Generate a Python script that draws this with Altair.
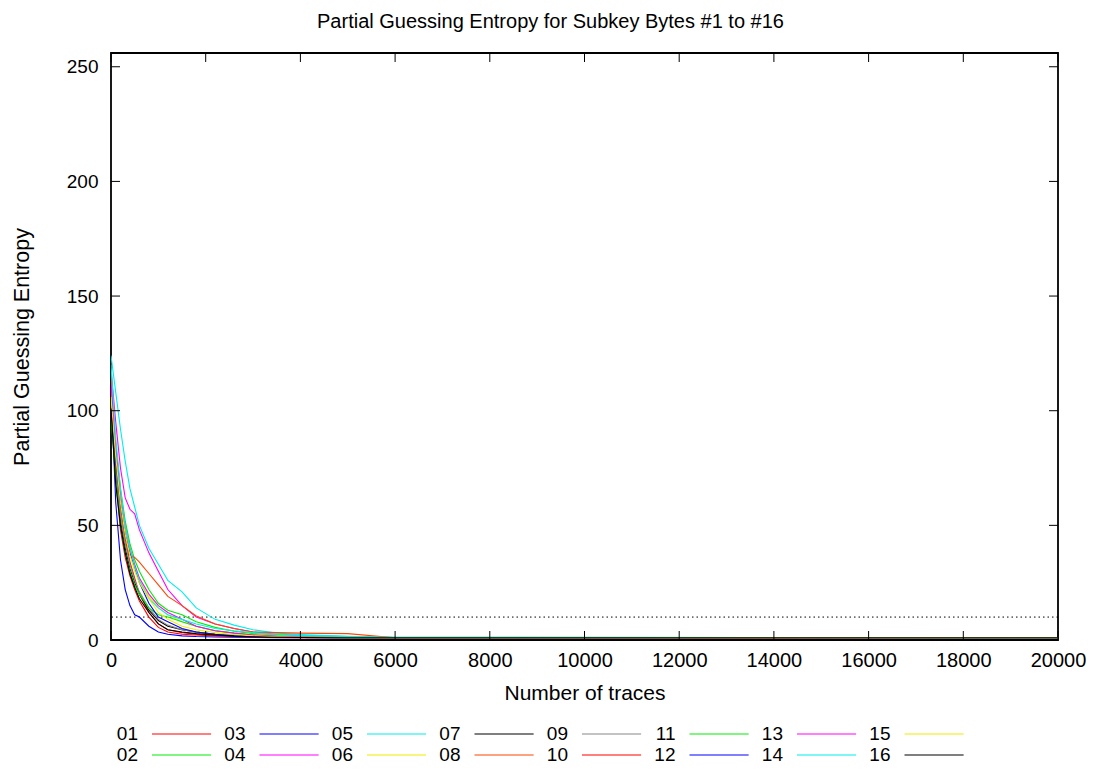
import altair as alt
import pandas as pd

# ---------------- data ----------------
traces = [0, 100, 200, 300, 400, 500, 600, 800, 1000, 1200, 1500, 1800,
          2200, 2600, 3000, 3500, 4000, 5000, 6000, 20000]

s01 = [112, 80, 58, 44, 34, 27, 20, 12, 7, 4.5, 3.2, 2.5, 2.0, 1.6, 1.4, 1.2, 1.1, 1.0, 1.0, 1.0]
s02 = [105, 85, 66, 52, 42, 35, 30, 22, 16, 13, 11, 8, 5.5, 3.8, 2.8, 2.0, 1.6, 1.2, 1.0, 1.0]
s03 = [110, 60, 35, 22, 15, 11, 10, 6, 3.5, 2.5, 1.8, 1.5, 1.3, 1.2, 1.1, 1.0, 1.0, 1.0, 1.0, 1.0]
s04 = [118, 95, 75, 62, 57, 55, 48, 38, 30, 22, 15, 10, 7, 5, 3.5, 2.5, 2.0, 1.4, 1.1, 1.0]
s05 = [124, 108, 92, 78, 66, 58, 50, 40, 33, 26, 21, 14, 9, 6.5, 4.5, 3.0, 2.4, 1.6, 1.2, 1.0]
s06 = [108, 82, 62, 48, 38, 31, 26, 19, 14, 11, 8, 6, 4, 3, 2.4, 1.8, 1.5, 1.2, 1.0, 1.0]
s07 = [100, 72, 52, 40, 31, 25, 20, 13, 8.5, 6, 4.5, 3.5, 2.5, 2.0, 1.6, 1.3, 1.2, 1.0, 1.0, 1.0]
s08 = [115, 78, 55, 42, 37, 36, 34, 29, 24, 19, 15, 10.5, 7, 5, 3.5, 3.2, 3.0, 2.8, 1.0, 1.0]
s09 = [104, 75, 55, 42, 33, 26, 21, 14, 9, 6.5, 4.5, 3.5, 2.6, 2.0, 1.6, 1.3, 1.1, 1.0, 1.0, 1.0]
s10 = [102, 70, 48, 36, 28, 22, 17, 10, 5.5, 3.5, 2.5, 2.2, 1.8, 1.5, 1.3, 1.1, 1.0, 1.0, 1.0, 1.0]
s11 = [98, 70, 50, 38, 30, 24, 20, 14, 11, 10, 8, 6, 4, 3, 2.2, 1.6, 1.3, 1.1, 1.0, 1.0]
s12 = [100, 78, 60, 46, 38, 32, 25, 16, 10, 8, 5, 3.5, 2.5, 1.8, 1.5, 1.2, 1.1, 1.0, 1.0, 1.0]
s13 = [112, 85, 64, 50, 40, 33, 27, 20, 15, 12, 9, 6, 4, 3, 2.2, 1.6, 1.3, 1.1, 1.0, 1.0]
s14 = [120, 88, 66, 50, 40, 32, 26, 18, 14, 11, 9, 7, 5, 4, 3.2, 2.5, 2.0, 1.5, 1.2, 1.0]
s15 = [106, 80, 60, 46, 37, 30, 25, 18, 12, 9, 6, 4.5, 3.2, 2.4, 1.8, 1.4, 1.2, 1.0, 1.0, 1.0]
s16 = [101, 68, 50, 38, 29, 23, 18, 12, 7, 4.5, 3.5, 2.8, 2.2, 1.7, 1.4, 1.2, 1.1, 1.0, 1.0, 1.0]

series_names = ["01", "02", "03", "04", "05", "06", "07", "08",
                "09", "10", "11", "12", "13", "14", "15", "16"]
series_values = [s01, s02, s03, s04, s05, s06, s07, s08,
                 s09, s10, s11, s12, s13, s14, s15, s16]
series_colors = ["#ff0000", "#00ee00", "#0000ff", "#ff00ff", "#00eeee", "#eeee00",
                 "#000000", "#ff4500", "#888888", "#ff0000", "#00ee00", "#0000ff",
                 "#ff00ff", "#00eeee", "#eeee00", "#000000"]

x_ticks = [0, 2000, 4000, 6000, 8000, 10000, 12000, 14000, 16000, 18000, 20000]
y_ticks = [0, 50, 100, 150, 200, 250]
threshold = [10]

# ---------------- tables ----------------
rows = []
for name, vals in zip(series_names, series_values):
    for t, v in zip(traces, vals):
        rows.append({"series": name, "traces": t, "entropy": v})
df = pd.DataFrame(rows)

legend_df = pd.DataFrame({
    "series": series_names,
    "col": [i // 2 for i in range(16)],
    "row": [i % 2 for i in range(16)],
})
legend_df["col_end"] = legend_df["col"] + 0.55

W, H = 947, 587
FONT = "Liberation Sans"
FS = 19

xs = alt.Scale(domain=[0, 20000], nice=False, zero=False)
ys = alt.Scale(domain=[0, 256], nice=False, zero=False)
color_scale = alt.Scale(domain=series_names, range=series_colors)

lines = alt.Chart(df).mark_line(strokeWidth=1.1, clip=True).encode(
    x=alt.X("traces:Q", scale=xs,
            axis=alt.Axis(values=x_ticks, format="d", ticks=False, domain=False, grid=False,
                          labelFlush=False, labelOverlap=False,
                          labelFont=FONT, labelFontSize=20, labelColor="black", labelPadding=10,
                          title="Number of traces", titleFont=FONT, titleFontSize=21,
                          titleFontWeight="normal", titleColor="black", titlePadding=12)),
    y=alt.Y("entropy:Q", scale=ys,
            axis=alt.Axis(values=y_ticks, format="d", ticks=False, domain=False, grid=False,
                          labelFlush=False, labelOverlap=False,
                          labelFont=FONT, labelFontSize=FS, labelColor="black", labelPadding=13,
                          title="Partial Guessing Entropy", titleFont=FONT, titleFontSize=21.5,
                          titleFontWeight="normal", titleColor="black", titlePadding=33)),
    color=alt.Color("series:N", scale=color_scale, legend=None),
)

thr = alt.Chart(pd.DataFrame({"v": threshold})).mark_rule(
    color="black", strokeWidth=1, strokeDash=[1.5, 3]
).encode(y=alt.Y("v:Q", scale=ys, axis=None))

xt = pd.DataFrame({"t": x_ticks})
yt = pd.DataFrame({"t": y_ticks})
tick_bottom = alt.Chart(xt).mark_rule(color="black", strokeWidth=1).encode(
    x=alt.X("t:Q", scale=xs, axis=None), y=alt.value(H), y2=alt.value(H - 9))
tick_top = alt.Chart(xt).mark_rule(color="black", strokeWidth=1).encode(
    x=alt.X("t:Q", scale=xs, axis=None), y=alt.value(0), y2=alt.value(9))
tick_left = alt.Chart(yt).mark_rule(color="black", strokeWidth=1).encode(
    y=alt.Y("t:Q", scale=ys, axis=None), x=alt.value(0), x2=alt.value(9))
tick_right = alt.Chart(yt).mark_rule(color="black", strokeWidth=1).encode(
    y=alt.Y("t:Q", scale=ys, axis=None), x=alt.value(W), x2=alt.value(W - 9))

leg_text = alt.Chart(legend_df).mark_text(
    align="right", baseline="middle", font=FONT, fontSize=FS, color="black"
).encode(
    x=alt.X("col:Q", scale=alt.Scale(domain=[0, 8], range=[27, 887], nice=False, zero=False), axis=None),
    y=alt.Y("row:Q", scale=alt.Scale(domain=[0, 1], range=[681, 702], nice=False, zero=False), axis=None),
    text="series:N",
)
leg_line = alt.Chart(legend_df).mark_rule(strokeWidth=1.2).encode(
    x=alt.X("col:Q", scale=alt.Scale(domain=[0, 8], range=[41, 901], nice=False, zero=False), axis=None),
    x2="col_end:Q",
    y=alt.Y("row:Q", scale=alt.Scale(domain=[0, 1], range=[681, 702], nice=False, zero=False), axis=None),
    color=alt.Color("series:N", scale=color_scale, legend=None),
)

chart = alt.layer(
    thr, lines, tick_bottom, tick_top, tick_left, tick_right, leg_text, leg_line
).resolve_scale(x="independent", y="independent").properties(
    width=W, height=H,
    title=alt.TitleParams(text="Partial Guessing Entropy for Subkey Bytes #1 to #16",
                          font=FONT, fontSize=20, fontWeight="normal", color="black",
                          anchor="middle", frame="group", offset=21, dx=-34),
    autosize=alt.AutoSizeParams(type="none"),
    padding={"left": 103, "top": 45, "right": 36, "bottom": 125},
).configure_view(stroke="black", strokeWidth=1.8)

chart.save("out.html", embed_options={"renderer": "svg", "actions": False})
